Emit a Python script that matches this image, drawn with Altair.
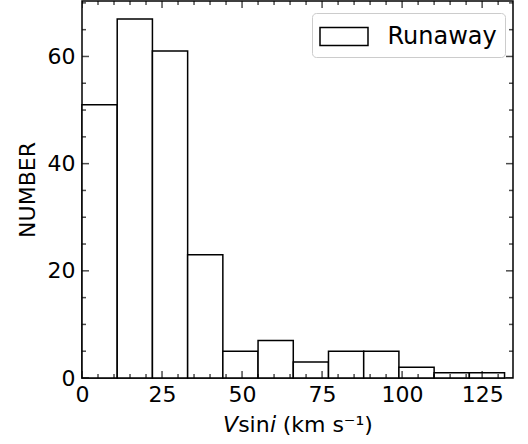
import altair as alt
import pandas as pd

# ---- data ----
bin_edges = [0, 11, 22, 33, 44, 55, 66, 77, 88, 99, 110, 121, 132]
counts = [51, 67, 61, 23, 5, 7, 3, 5, 5, 2, 1, 1]
series_name = "Runaway"
x_major = [0, 25, 50, 75, 100, 125]
x_minor = [5, 10, 15, 20, 30, 35, 40, 45, 55, 60, 65, 70, 80, 85, 90, 95, 105, 110, 115, 120, 130]
y_major = [0, 20, 40, 60]
y_minor = [5, 10, 15, 25, 30, 35, 45, 50, 55, 65, 70]
x_domain = [0, 134.64]
y_domain = [0, 70.35]

W, H = 431, 377
FONT = "DejaVu Sans"
FS = 22
MAJOR_LEN, MINOR_LEN = 14, 8

bars_df = pd.DataFrame({
    "start": bin_edges[:-1],
    "end": bin_edges[1:],
    "count": counts,
    "series": [series_name] * len(counts),
})
xt_df = pd.DataFrame({"v": x_major + x_minor,
                      "len": [MAJOR_LEN] * len(x_major) + [MINOR_LEN] * len(x_minor)})
yt_df = pd.DataFrame({"v": y_major + y_minor,
                      "len": [MAJOR_LEN] * len(y_major) + [MINOR_LEN] * len(y_minor)})

xs = alt.Scale(domain=x_domain, nice=False, zero=True)
ys = alt.Scale(domain=y_domain, nice=False, zero=True)

x_axis = alt.Axis(values=x_major, title="𝘝sin𝘪 (km s⁻¹)", ticks=False, domain=False,
                  grid=False, labelPadding=6, titlePadding=9, format="d", labelFlush=False)
y_axis = alt.Axis(values=y_major, title="NUMBER", ticks=False, domain=False,
                  grid=False, labelPadding=7, titlePadding=8, format="d", labelFlush=False)

bars = alt.Chart(bars_df).mark_rect(stroke="black", strokeWidth=1.5).encode(
    x=alt.X("start:Q", scale=xs, axis=x_axis),
    x2="end:Q",
    y=alt.Y("count:Q", scale=ys, axis=y_axis),
    y2=alt.datum(0),
    fill=alt.Fill("series:N", scale=alt.Scale(range=["white"]),
                  legend=alt.Legend(title=None, orient="none", legendX=230, legendY=12,
                                    symbolType="M-1.655,-0.621H1.655V0.621H-1.655Z", symbolSize=841,
                                    symbolStrokeColor="black", symbolStrokeWidth=1.5,
                                    symbolFillColor="white", symbolOffset=8.5,
                                    labelFontSize=24, labelFont=FONT,
                                    labelColor="black", labelOffset=28, padding=8,
                                    strokeColor="#cccccc", fillColor="white", cornerRadius=4)),
)

def xticks(ypix):
    return alt.Chart(xt_df).mark_tick(orient="vertical", clip=True, thickness=1.5, color="black").encode(
        x=alt.X("v:Q", scale=xs, axis=x_axis),
        y=alt.value(ypix),
        size=alt.Size("len:Q", scale=None, legend=None),
    )

def yticks(xpix):
    return alt.Chart(yt_df).mark_tick(orient="horizontal", clip=True, thickness=1.5, color="black").encode(
        y=alt.Y("v:Q", scale=ys, axis=y_axis),
        x=alt.value(xpix),
        size=alt.Size("len:Q", scale=None, legend=None),
    )

chart = alt.layer(bars, xticks(H), xticks(0), yticks(0), yticks(W)).properties(
    width=W, height=H,
    background="white",
    autosize=alt.AutoSizeParams(type="none"),
    padding={"left": 82, "top": 1, "right": 15, "bottom": 66},
).configure_view(
    stroke="black", strokeWidth=1.5
).configure_axis(
    labelFont=FONT, labelFontSize=FS, labelColor="black",
    titleFont=FONT, titleFontSize=FS, titleColor="black", titleFontWeight="normal",
)

chart.save("out.html", embed_options={"renderer": "svg", "actions": False})
